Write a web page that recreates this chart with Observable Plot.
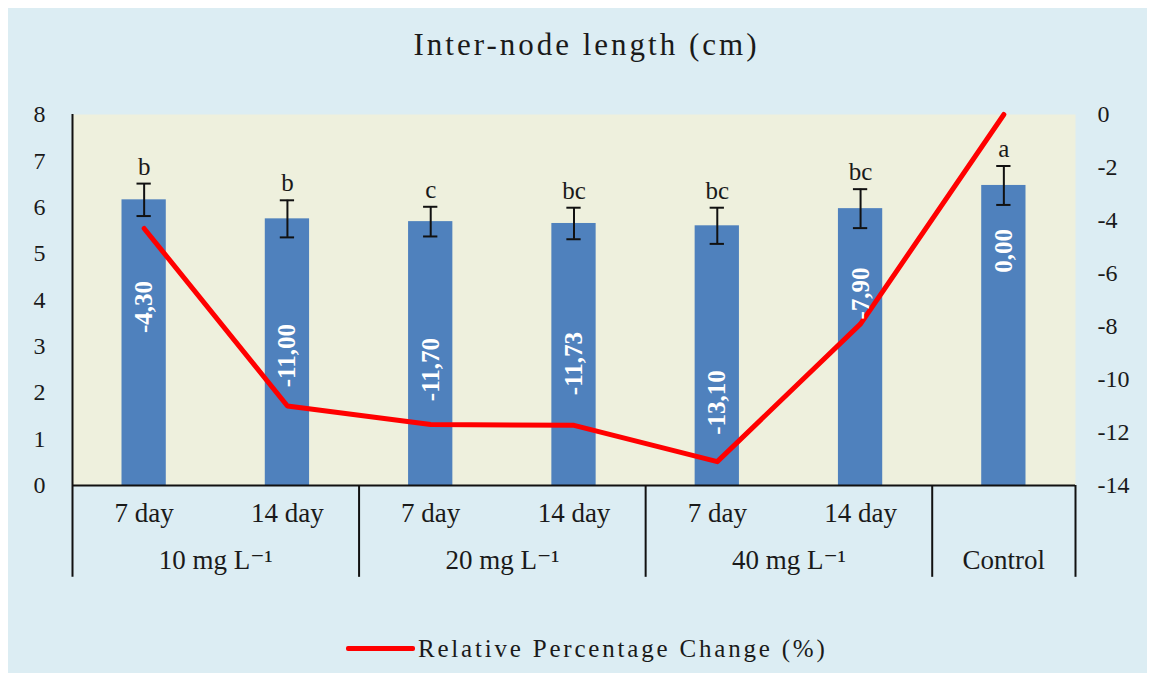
<!DOCTYPE html>
<html>
<head>
<meta charset="utf-8">
<script src="https://cdn.jsdelivr.net/npm/d3@7"></script>
<script src="https://cdn.jsdelivr.net/npm/@observablehq/plot@0.6"></script>
<style>
  html, body { margin: 0; padding: 0; background: #ffffff; }
  #wrap { position: relative; width: 1153px; height: 680px; overflow: hidden; font-family: "Liberation Serif", "Times New Roman", "DejaVu Serif", serif; color: #1a1a1a; }
  #bg { position: absolute; left: 8px; top: 8px; width: 1139px; height: 665px; background: #dcedf3; }
  #title { position: absolute; left: 10px; top: 29px; width: 1153px; text-align: center; font-size: 31px; line-height: 31px; letter-spacing: 3px; }
  #chart { position: absolute; left: 0; top: 90px; }
  #legend { position: absolute; left: 346px; top: 636px; display: flex; align-items: center; font-size: 25px; line-height: 25px; letter-spacing: 2.8px; }
  #legend .sw { display: inline-block; width: 69px; height: 5px; background: #ff0000; border-radius: 2px; margin-right: 3px; }
</style>
</head>
<body>
<div id="wrap">
  <div id="bg"></div>
  <div id="title">Inter-node length (cm)</div>
  <div id="chart"></div>
  <div id="legend"><span class="sw"></span><span>Relative Percentage Change (%)</span></div>
</div>
<script>
// ---- data ----
const days = ["7 day", "14 day", "7 day", "14 day", "7 day", "14 day", ""];
const groups = ["10 mg L⁻¹", "10 mg L⁻¹", "20 mg L⁻¹", "20 mg L⁻¹", "40 mg L⁻¹", "40 mg L⁻¹", "Control"];
const means = [6.16, 5.75, 5.69, 5.65, 5.60, 5.97, 6.47];
const errs = [0.35, 0.40, 0.32, 0.34, 0.39, 0.42, 0.42];
const letters = ["b", "b", "c", "bc", "bc", "bc", "a"];
const changes = [-4.30, -11.00, -11.70, -11.73, -13.10, -7.90, 0.00];
const changeLabels = ["-4,30", "-11,00", "-11,70", "-11,73", "-13,10", "-7,90", "0,00"];
const labelAt = [3.85, 2.80, 2.50, 2.63, 1.79, 4.14, 5.06];
const leftTicks = [0, 1, 2, 3, 4, 5, 6, 7, 8];
const rightTicks = [-14, -12, -10, -8, -6, -4, -2, 0];

// right axis (-14..0) mapped onto left axis (0..8)
const toLeft = v => (v + 14) * 8 / 14;
const fromLeft = v => v * 14 / 8 - 14;

const rows = days.map((d, i) => ({
  i, day: d, group: groups[i], mean: means[i], err: errs[i],
  letter: letters[i], change: changes[i], label: changeLabels[i], labelAt: labelAt[i]
}));

const groupInfo = d3.groups(rows, d => d.group).map(([g, rs]) => ({
  group: g,
  start: d3.min(rs, r => r.i),
  end: d3.max(rs, r => r.i) + 1
}));
groupInfo.forEach(g => g.mid = (g.start + g.end) / 2);
const boundaries = groupInfo.map(g => g.end);

const plot = Plot.plot({
  width: 1153,
  height: 500,
  marginLeft: 72,
  marginRight: 78,
  marginTop: 24,
  marginBottom: 105,
  style: { fontFamily: "'Liberation Serif', 'Times New Roman', 'DejaVu Serif', serif", fontSize: "24px", background: "transparent", color: "#1a1a1a", overflow: "visible" },
  x: { domain: [0, 7], axis: null },
  y: { domain: [0, 8], axis: null },
  marks: [
    Plot.frame({ fill: "#eef0dd", stroke: null }),
    Plot.rectY(rows, { x1: d => d.i, x2: d => d.i + 1, y: "mean", fill: "#4f81bd", insetLeft: 49.5, insetRight: 49.5 }),
    Plot.ruleX(rows, { x: d => d.i + 0.5, y1: d => d.mean - d.err, y2: d => d.mean + d.err, stroke: "#111", strokeWidth: 2 }),
    Plot.ruleY(rows, { y: d => d.mean + d.err, x1: d => d.i, x2: d => d.i + 1, insetLeft: 64.5, insetRight: 64.5, stroke: "#111", strokeWidth: 2 }),
    Plot.ruleY(rows, { y: d => d.mean - d.err, x1: d => d.i, x2: d => d.i + 1, insetLeft: 64.5, insetRight: 64.5, stroke: "#111", strokeWidth: 2 }),
    Plot.text(rows, { x: d => d.i + 0.5, y: d => d.mean + d.err, text: "letter", dy: -9, lineAnchor: "bottom", fontSize: 25, fill: "#1a1a1a" }),
    Plot.line(rows, { x: d => d.i + 0.5, y: d => toLeft(d.change), stroke: "#ff0000", strokeWidth: 5, strokeLinejoin: "round" }),
    Plot.text(rows, { x: d => d.i + 0.5, y: "labelAt", text: "label", rotate: -90, fill: "white", fontSize: 25, fontWeight: "bold" }),
    // axis lines and category dividers
    Plot.ruleY([0], { x1: 0, x2: 7, stroke: "#111", strokeWidth: 2 }),
    Plot.ruleX([0], { y1: -1.98, y2: 8, stroke: "#111", strokeWidth: 2 }),
    Plot.ruleX(boundaries, { y1: -1.98, y2: 0, stroke: "#111", strokeWidth: 2 }),
    // category labels
    Plot.text(rows, { x: d => d.i + 0.5, y: 0, text: "day", dy: 28, fontSize: 27, fill: "#1a1a1a" }),
    Plot.text(groupInfo, { x: "mid", y: 0, text: "group", dy: 75, fontSize: 27, fill: "#1a1a1a" }),
    // axes
    Plot.axisY(leftTicks, { anchor: "left", tickSize: 0, tickPadding: 27, fontSize: 24, label: null, tickFormat: d => String(d) }),
    Plot.axisY(rightTicks.map(toLeft), { anchor: "right", tickSize: 0, tickPadding: 22, fontSize: 24, label: null, tickFormat: d => String(Math.round(fromLeft(d))) })
  ]
});
document.getElementById("chart").appendChild(plot);
</script>
</body>
</html>
